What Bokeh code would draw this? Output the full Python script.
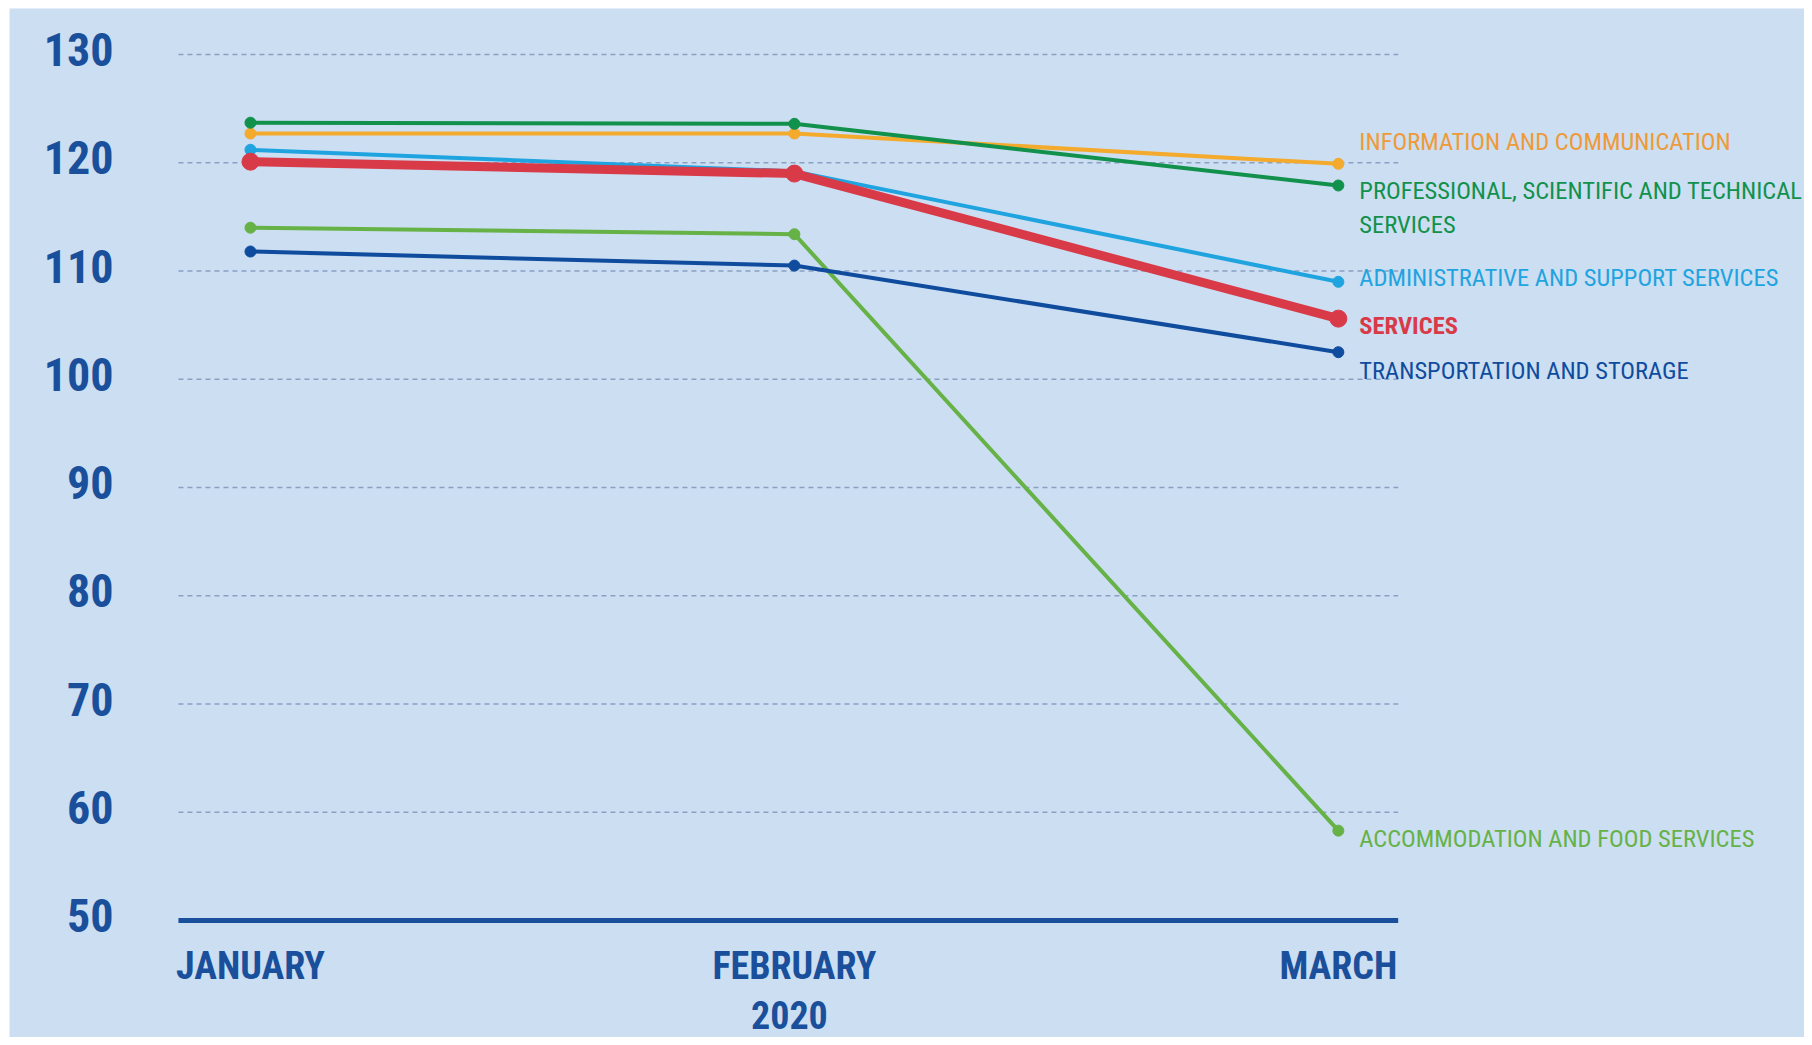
from bokeh.plotting import figure
from bokeh.models import Range1d, ColumnDataSource
from bokeh.core.properties import value
from bokeh.embed import file_html
from bokeh.resources import INLINE

# ---------------- data ----------------
months = ["JANUARY", "FEBRUARY", "MARCH"]
year_label = "2020"
y_ticks = [50, 60, 70, 80, 90, 100, 110, 120, 130]

accommodation = [114.0, 113.4, 58.3]
transport = [111.8, 110.5, 102.5]
admin_support = [121.2, 119.2, 109.0]
info_comm = [122.7, 122.7, 119.9]
prof_sci = [123.7, 123.6, 117.9]
services = [120.1, 119.0, 105.6]

series_names = [
    "ACCOMMODATION AND FOOD SERVICES",
    "TRANSPORTATION AND STORAGE",
    "ADMINISTRATIVE AND SUPPORT SERVICES",
    "INFORMATION AND COMMUNICATION",
    "PROFESSIONAL, SCIENTIFIC AND TECHNICAL\nSERVICES",
    "SERVICES",
]
series_values = [accommodation, transport, admin_support, info_comm, prof_sci, services]

# ---------------- styles / label positions ----------------
line_colors = ["#66b246", "#0f4c9e", "#1fa4e0", "#f4aa2c", "#11914b", "#d93a48"]
text_colors = ["#66b246", "#0f4c9e", "#1fa4e0", "#ef9a38", "#11914b", "#d93a48"]
line_widths = [4, 4, 4, 4, 4, 9]
marker_sizes = [11, 11, 11, 11, 11, 17]
label_y = [57.6, 100.8, 109.4, 121.96, 115.87, 104.97]
label_bold = [False, False, False, False, False, True]

BG = "#cbdef2"
AXIS_BLUE = "#1a4f9b"
FONT = "'Roboto Condensed', 'DejaVu Sans Condensed', 'Liberation Sans Narrow', sans-serif"

W, H = 1804, 1037
x_idx = list(range(len(months)))

p = figure(width=W, height=H, output_backend="svg", toolbar_location=None,
           x_range=Range1d(-0.443, 2.857), y_range=Range1d(39.19, 134.25),
           x_axis_location=None, y_axis_location=None,
           min_border_left=9, min_border_right=0,
           min_border_top=8, min_border_bottom=0)
p.background_fill_color = BG
p.border_fill_color = "white"
p.outline_line_color = None
p.xgrid.visible = False
p.ygrid.visible = False

# y tick labels
p.text(x=[-0.2518] * len(y_ticks), y=[v + 0.45 for v in y_ticks], text=[str(v) for v in y_ticks],
       text_font=value(FONT), text_font_size="46px", text_font_style="bold",
       text_color=AXIS_BLUE, text_align="right", text_baseline="middle")

# grid lines (dashed) and baseline
gx0, gx1 = -0.1324, 2.110
grid_vals = [v for v in y_ticks if v != y_ticks[0]]
p.segment(x0=[gx0] * len(grid_vals), x1=[gx1] * len(grid_vals), y0=grid_vals, y1=grid_vals,
          line_color="#8a9fc2", line_width=1.5, line_dash="5 4")
p.segment(x0=[gx0], x1=[gx1], y0=[y_ticks[0]], y1=[y_ticks[0]],
          line_color=AXIS_BLUE, line_width=5)

# series
for vals, col, lw, ms in zip(series_values, line_colors, line_widths, marker_sizes):
    src = ColumnDataSource(dict(x=x_idx, y=vals))
    p.line("x", "y", source=src, line_color=col, line_width=lw)
    p.scatter("x", "y", source=src, size=ms, fill_color=col, line_color=col)

# series labels
for name, ly, col, bold in zip(series_names, label_y, text_colors, label_bold):
    p.text(x=[x_idx[-1]], y=[ly], text=[name], x_offset=21,
           text_font=value(FONT), text_font_size="24.5px",
           text_font_style="bold" if bold else "normal",
           text_color=col, text_align="left", text_baseline="middle",
           text_line_height=1.15)

# month labels and year
p.text(x=x_idx, y=[45.84] * len(months), text=months,
       text_font=value(FONT), text_font_size="38px", text_font_style="bold",
       text_color=AXIS_BLUE, text_align="center", text_baseline="middle")
p.text(x=[x_idx[1]], y=[41.3], text=[year_label], x_offset=-5,
       text_font=value(FONT), text_font_size="38px", text_font_style="bold",
       text_color=AXIS_BLUE, text_align="center", text_baseline="middle")

open("out.html", "w").write(file_html(p, INLINE))
